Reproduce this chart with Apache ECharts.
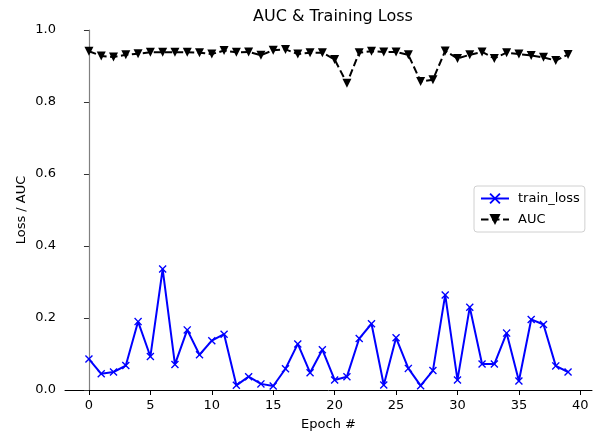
<!DOCTYPE html>
<html>
<head>
<meta charset="utf-8">
<script src="https://cdn.jsdelivr.net/npm/echarts@6/dist/echarts.min.js"></script>
<style>
html,body{margin:0;padding:0;background:#fff;}
#chart{width:595px;height:436px;}
</style>
</head>
<body>
<div id="chart"></div>
<script>
const epochs = Array.from({length: 40}, (_, i) => i);
const trainLoss = [0.086,0.045,0.050,0.068,0.190,0.093,0.336,0.071,0.167,0.098,
                   0.137,0.155,0.013,0.037,0.017,0.011,0.059,0.128,0.048,0.112,
                   0.028,0.037,0.143,0.184,0.014,0.145,0.060,0.012,0.054,0.264,
                   0.028,0.230,0.072,0.072,0.158,0.025,0.196,0.182,0.067,0.050];
const auc = [0.941,0.928,0.925,0.931,0.934,0.938,0.938,0.938,0.938,0.937,
             0.933,0.943,0.938,0.939,0.930,0.944,0.946,0.933,0.937,0.937,
             0.918,0.852,0.937,0.941,0.939,0.939,0.931,0.857,0.862,0.942,
             0.921,0.931,0.939,0.921,0.937,0.933,0.929,0.924,0.915,0.932];
const xTicks = [0,5,10,15,20,25,30,35,40];
const yTicks = [0,0.2,0.4,0.6,0.8,1.0];

const FONT = 'DejaVu Sans';
const xPath = 'path://M0,1.2 L1.2,0 L5,3.8 L8.8,0 L10,1.2 L6.2,5 L10,8.8 L8.8,10 L5,6.2 L1.2,10 L0,8.8 L3.8,5 Z';

const chart = echarts.init(document.getElementById('chart'), null, {renderer: 'canvas'});
chart.setOption({
  animation: false,
  backgroundColor: '#fff',
  title: {
    text: 'AUC & Training Loss',
    left: 328, top: 4, textAlign: 'center',
    textStyle: {fontFamily: FONT, fontSize: 16, fontWeight: 'normal', color: '#000'}
  },
  grid: {left: 65, right: 3, top: 30, bottom: 42, containLabel: false},
  legend: {
    orient: 'vertical',
    left: 474, top: 186,
    padding: [6, 5, 6, 6],
    itemGap: 8,
    itemWidth: 28, itemHeight: 14,
    borderColor: '#d0d0d0', borderWidth: 1, borderRadius: 3,
    backgroundColor: '#fff',
    textStyle: {fontFamily: FONT, fontSize: 13, color: '#000', padding: [0, 0, 0, 4]},
    data: ['train_loss', 'AUC']
  },
  xAxis: {
    type: 'value', min: -1.95, max: 40.95,
    name: 'Epoch #', nameLocation: 'middle', nameGap: 28,
    nameMoveOverlap: false,
    nameTextStyle: {fontFamily: FONT, fontSize: 13, color: '#000'},
    axisLine: {show: true, onZero: false, lineStyle: {color: '#000', width: 1}},
    axisTick: {show: true, length: 5, customValues: xTicks, lineStyle: {color: '#000'}},
    axisLabel: {customValues: xTicks, margin: 9, fontFamily: FONT, fontSize: 13, color: '#000'},
    splitLine: {show: false}
  },
  yAxis: {
    type: 'value', min: 0, max: 1,
    name: 'Loss / AUC', nameLocation: 'middle', nameGap: 37,
    nameMoveOverlap: false,
    nameTextStyle: {fontFamily: FONT, fontSize: 13, color: '#000'},
    axisLine: {show: true, lineStyle: {color: '#808080', width: 1.2}},
    axisTick: {show: true, length: 5, customValues: yTicks, lineStyle: {color: '#333'}},
    axisLabel: {customValues: yTicks, margin: 9, fontFamily: FONT, fontSize: 13, color: '#000',
      formatter: v => v.toFixed(1)},
    splitLine: {show: false}
  },
  series: [
    {
      name: 'train_loss', type: 'line',
      data: epochs.map((e, i) => [e, trainLoss[i]]),
      symbol: xPath, symbolSize: 8, showSymbol: true,
      clip: false,
      lineStyle: {color: '#0000ff', width: 2},
      itemStyle: {color: '#0000ff'}
    },
    {
      name: 'AUC', type: 'line',
      data: epochs.map((e, i) => [e, auc[i]]),
      symbol: 'triangle', symbolRotate: 180, symbolSize: 9, showSymbol: true,
      clip: false,
      lineStyle: {color: '#000', width: 2, type: [7.5, 3.5]},
      itemStyle: {color: '#000'}
    }
  ]
});
</script>
</body>
</html>
